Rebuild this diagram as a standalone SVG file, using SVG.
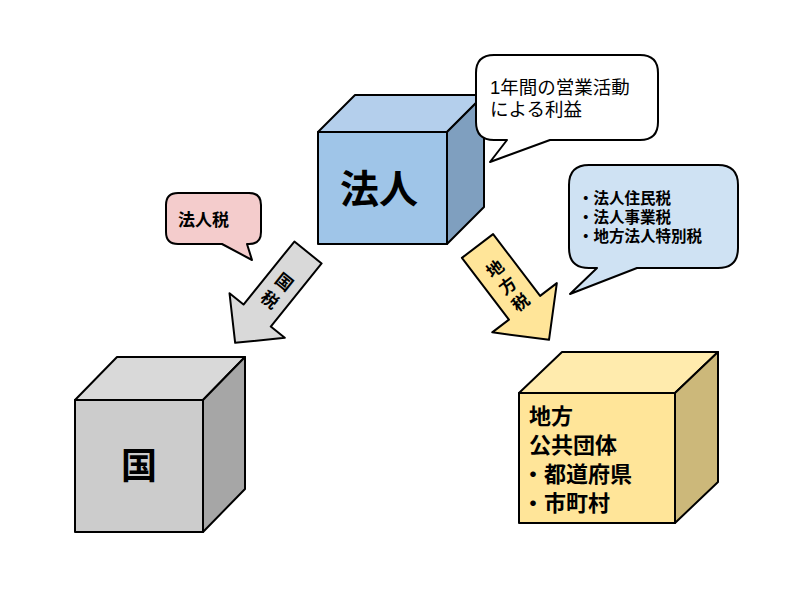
<svg xmlns="http://www.w3.org/2000/svg" width="800" height="600" viewBox="0 0 800 600">
<style>
.s{stroke:#000;stroke-width:2;stroke-linejoin:round}
text{font-family:"Liberation Sans","Noto Sans CJK JP",sans-serif;fill:#000}
.b{font-weight:bold}
</style>
<rect width="800" height="600" fill="#fff"/>
<g id="connectors">
<g id="arrow-kokuzei">
<polygon class="s" fill="#d9d9d9" transform="translate(308,252.5) rotate(128.9)" points="0,-17.5 81,-17.5 81,-35.5 116,0 81,35.5 81,17.5 0,17.5"/>
<g transform="translate(308,252.5) rotate(38.9)">
<text class="b" font-size="17" x="0" y="44" text-anchor="middle">国</text>
<text class="b" font-size="17" x="0" y="67" text-anchor="middle">税</text>
</g>
</g>
<g id="arrow-chihouzei">
<polygon class="s" fill="#ffe599" transform="translate(477.5,246) rotate(52.7)" points="0,-19.6 77.6,-19.6 77.6,-40.6 118,0 77.6,40.6 77.6,19.6 0,19.6"/>
<g transform="translate(477.5,246) rotate(-37.3)">
<text class="b" font-size="17" x="0" y="35" text-anchor="middle">地</text>
<text class="b" font-size="17" x="0" y="56" text-anchor="middle">方</text>
<text class="b" font-size="17" x="0" y="77" text-anchor="middle">税</text>
</g>
</g>
</g>
<g id="houjin">
<polygon class="s" fill="#b4cfec" points="318,132 355,95 484,95 447,132"/>
<polygon class="s" fill="#7f9fbf" points="447,132 484,95 484,207 447,244"/>
<rect class="s" fill="#9fc5e8" x="318" y="132" width="129" height="112"/>
<text class="b" font-size="39" x="379" y="203" text-anchor="middle">法人</text>
</g>
<g id="callout-rieki">
<path class="s" fill="#fff" d="M494,55 H640 Q658,55 658,73 V122 Q658,140 640,140 H550 L490,162 L507,140 H494 Q476,140 476,122 V73 Q476,55 494,55 Z"/>
<text font-size="18.5" x="490" y="94">1年間の営業活動</text>
<text font-size="18.5" x="490" y="116">による利益</text>
</g>
<g id="callout-houjinzei">
<path class="s" fill="#f4cccc" d="M178,193 H249 Q261,193 261,205 V232 Q261,244 249,244 H247 L252,260 L222,244 H178 Q166,244 166,232 V205 Q166,193 178,193 Z"/>
<text class="b" font-size="17" x="178" y="226">法人税</text>
</g>
<g id="callout-chihouzei">
<path class="s" fill="#cfe2f3" d="M589,165 H718 Q738,165 738,185 V248 Q738,268 718,268 H637 L570,294 L597,268 H589 Q569,268 569,248 V185 Q569,165 589,165 Z"/>
<g class="b" font-size="15.5">
<text x="578" y="204">・法人住民税</text>
<text x="578" y="223">・法人事業税</text>
<text x="578" y="242">・地方法人特別税</text>
</g>
</g>
<g id="kuni">
<polygon class="s" fill="#d9d9d9" points="75,400 117,357 245,357 203,400"/>
<polygon class="s" fill="#a6a6a6" points="203,400 245,357 245,489 203,532"/>
<rect class="s" fill="#cccccc" x="75" y="400" width="128" height="132"/>
<text class="b" font-size="36" x="139" y="479" text-anchor="middle">国</text>
</g>
<g id="chihou">
<polygon class="s" fill="#ffebad" points="519,393 562,352 718,352 675,393"/>
<polygon class="s" fill="#ccb87a" points="675,393 718,352 718,482 675,523"/>
<rect class="s" fill="#ffe599" x="519" y="393" width="156" height="130"/>
<g class="b" font-size="22">
<text x="529" y="424">地方</text>
<text x="529" y="453">公共団体</text>
<text x="522" y="482">・都道府県</text>
<text x="522" y="511">・市町村</text>
</g>
</g>
</svg>
